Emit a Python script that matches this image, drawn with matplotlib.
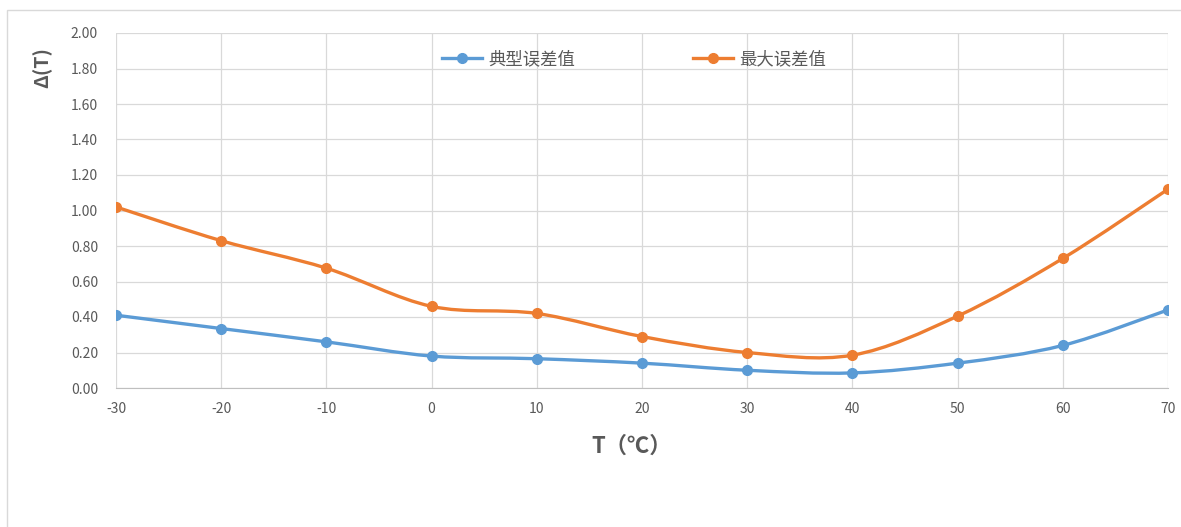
import matplotlib.pyplot as plt
from matplotlib.path import Path
from matplotlib.patches import PathPatch, Rectangle
from matplotlib.lines import Line2D
import numpy as np

plt.rcParams['font.family'] = ['Noto Sans CJK SC', 'DejaVu Sans']
plt.rcParams['axes.unicode_minus'] = False

temps = [-30, -20, -10, 0, 10, 20, 30, 40, 50, 60, 70]
typical = [0.41, 0.335, 0.26, 0.18, 0.165, 0.14, 0.10, 0.085, 0.14, 0.24, 0.44]
maximum = [1.02, 0.83, 0.675, 0.46, 0.42, 0.29, 0.20, 0.185, 0.405, 0.73, 1.12]
labels = ["典型误差值", "最大误差值"]
colors = ["#5b9bd5", "#ed7d31"]

gray = "#595959"


def smooth_path(xs, ys):
    # excel-like smoothed line: bezier segments with catmull-rom control points
    p = np.column_stack([xs, ys]).astype(float)
    n = len(p)
    verts = [p[0]]
    codes = [Path.MOVETO]
    for i in range(n - 1):
        p0 = p[i - 1] if i > 0 else p[i]
        p3 = p[i + 2] if i + 2 < n else p[i + 1]
        c1 = p[i] + (p[i + 1] - p0) / 6
        c2 = p[i + 1] - (p3 - p[i]) / 6
        verts += [c1, c2, p[i + 1]]
        codes += [Path.CURVE4] * 3
    return Path(verts, codes)


fig = plt.figure(figsize=(11.81, 5.27), dpi=100)
ax = fig.add_axes([116 / 1181, 1 - 388 / 527, (1168 - 116) / 1181, (388 - 33) / 527])

# outer chart border
fig.patches.append(Rectangle((7 / 1181, -0.1), 1.2, 1 - 10 / 527 + 0.1,
                             transform=fig.transFigure, fill=False,
                             edgecolor="#d9d9d9", linewidth=1))

for ys, c in zip([typical, maximum], colors):
    ax.add_patch(PathPatch(smooth_path(temps, ys), facecolor="none",
                           edgecolor=c, linewidth=2.4, zorder=3))
    ax.plot(temps, ys, linestyle="none", marker="o", markersize=7,
            color=c, zorder=4)

ax.set_xlim(-30, 70)
ax.set_ylim(0, 2.0)
ax.set_xticks(temps)
ax.set_yticks(np.arange(0, 2.01, 0.2))
ax.set_yticklabels([f"{v:.2f}" for v in np.arange(0, 2.01, 0.2)])
ax.grid(True, color="#d9d9d9", linewidth=0.9)
ax.set_axisbelow(True)
for s in ["top", "right", "left"]:
    ax.spines[s].set_visible(False)
ax.spines["bottom"].set_color("#bfbfbf")
ax.tick_params(length=0, colors=gray, labelsize=10)
ax.tick_params(axis="x", pad=10)
ax.tick_params(axis="y", pad=13)

fig.text(42 / 1181, 1 - 68 / 527, "Δ(T)", rotation=90, ha="center", va="center",
         fontsize=14, fontweight="bold", color=gray)
fig.text(632 / 1181, 1 - 446 / 527, "T（℃）", ha="center", va="center",
         fontsize=16, fontweight="bold", color=gray)

handles = [Line2D([], [], color=c, linewidth=2.4, marker="o", markersize=7) for c in colors]
ax.legend(handles, labels, ncol=2, loc="upper center", bbox_to_anchor=(0.4925, 0.995),
          frameon=False, fontsize=12.5, labelcolor=gray, handlelength=2.3,
          columnspacing=6.8, handletextpad=0.35)

fig.savefig("out.png", dpi=100)
